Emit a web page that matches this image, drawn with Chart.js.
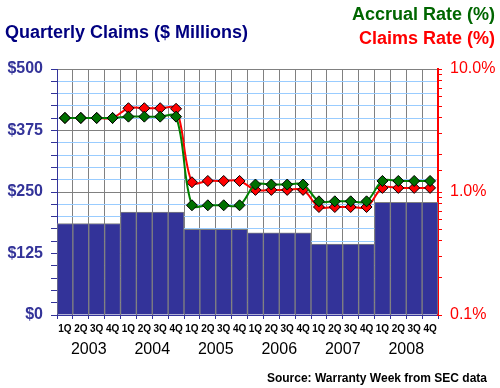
<!DOCTYPE html>
<html>
<head>
<meta charset="utf-8">
<script src="https://cdn.jsdelivr.net/npm/chart.js@4"></script>
<style>
  body { margin: 0; background: #fff; }
  #wrap { position: relative; width: 500px; height: 388px; font-family: Arial, "Liberation Sans", sans-serif; }
  .lbl { position: absolute; font-weight: bold; white-space: nowrap; line-height: 20px; }
</style>
</head>
<body>
<div id="wrap">
  <canvas id="chart" width="500" height="388"></canvas>
  <div class="lbl" style="left:5px; top:22px; font-size:18px; color:#000080;">Quarterly Claims ($ Millions)</div>
  <div class="lbl" style="right:5px; top:4px; font-size:18px; color:#006600;">Accrual Rate (%)</div>
  <div class="lbl" style="right:5px; top:28px; font-size:18px; color:#ff0000;">Claims Rate (%)</div>
  <div class="lbl" style="right:13px; top:368px; font-size:12px; color:#000;">Source: Warranty Week from SEC data</div>
</div>
<script>
const quarters = ['1Q','2Q','3Q','4Q','1Q','2Q','3Q','4Q','1Q','2Q','3Q','4Q',
                  '1Q','2Q','3Q','4Q','1Q','2Q','3Q','4Q','1Q','2Q','3Q','4Q'];
const years = ['2003', '2004', '2005', '2006', '2007', '2008'];

// quarterly claims, $ millions
const claimsPaid = [186, 186, 186, 186, 209, 209, 209, 209, 174, 174, 174, 174,
                    167, 167, 167, 167, 144, 144, 144, 144, 229, 229, 229, 229];
// accrual rate, %
const accrualRate = [4.0, 4.0, 4.0, 4.0, 4.1, 4.1, 4.1, 4.1, 0.78, 0.78, 0.78, 0.78,
                     1.15, 1.15, 1.15, 1.15, 0.84, 0.84, 0.84, 0.84, 1.23, 1.23, 1.23, 1.23];
// claims rate, %
const claimsRate = [4.0, 4.0, 4.0, 4.0, 4.8, 4.8, 4.8, 4.75, 1.2, 1.23, 1.23, 1.23,
                    1.04, 1.04, 1.04, 1.04, 0.755, 0.755, 0.755, 0.755, 1.08, 1.08, 1.08, 1.08];

const FONT = 'Arial, "Liberation Sans", sans-serif';
const isDecade = v => Math.abs(Math.log10(v) - Math.round(Math.log10(v))) < 1e-6;

new Chart(document.getElementById('chart'), {
  data: {
    labels: quarters,
    datasets: [
      {
        type: 'line',
        label: 'Accrual Rate (%)',
        data: accrualRate,
        yAxisID: 'y2',
        borderColor: '#008000',
        borderWidth: 2,
        tension: 0.35,
        pointStyle: 'rectRot',
        pointRadius: 5.5,
        pointBackgroundColor: '#007000',
        pointBorderColor: '#000',
        pointBorderWidth: 1,
        order: 1
      },
      {
        type: 'line',
        label: 'Claims Rate (%)',
        data: claimsRate,
        yAxisID: 'y2',
        borderColor: '#ff0000',
        borderWidth: 2,
        tension: 0.35,
        pointStyle: 'rectRot',
        pointRadius: 5.5,
        pointBackgroundColor: '#ff0000',
        pointBorderColor: '#000',
        pointBorderWidth: 1,
        order: 2
      },
      {
        type: 'bar',
        label: 'Quarterly Claims',
        data: claimsPaid,
        yAxisID: 'y',
        backgroundColor: '#333399',
        borderColor: '#808080',
        borderWidth: 1,
        barPercentage: 1,
        categoryPercentage: 1,
        order: 3
      }
    ]
  },
  options: {
    responsive: false,
    devicePixelRatio: 1,
    animation: false,
    layout: { padding: { top: 69, bottom: 23, left: 0, right: 0 } },
    plugins: { legend: { display: false }, tooltip: { enabled: false } },
    scales: {
      x: {
        type: 'category',
        position: 'bottom',
        weight: 0,
        afterFit: s => { s.height = 20; },
        grid: { color: '#808080', tickColor: '#333399', tickLength: 4, offset: true },
        border: { color: '#333399', width: 1 },
        ticks: { color: '#000', font: { family: FONT, size: 10, weight: 'bold' }, padding: 4, maxRotation: 0, autoSkip: false }
      },
      x2: {
        type: 'linear',
        position: 'bottom',
        weight: 1,
        min: 0,
        max: 24,
        afterFit: s => { s.height = 30; },
        afterBuildTicks: s => { s.ticks = years.map((_, i) => ({ value: i * 4 + 2 })); },
        grid: { display: false, drawTicks: false },
        border: { display: false },
        ticks: {
          color: '#000',
          font: { family: FONT, size: 16 },
          padding: 5,
          maxRotation: 0,
          autoSkip: false,
          callback: v => years[(v - 2) / 4]
        }
      },
      y: {
        position: 'left',
        min: 0,
        max: 500,
        afterFit: s => { s.width = 57; },
        grid: {
          color: ctx => ctx.tick.value % 125 === 0 ? '#808080' : '#99ccff',
          tickColor: '#333399',
          tickLength: 6
        },
        border: { color: '#333399', width: 1 },
        ticks: {
          stepSize: 25,
          autoSkip: false,
          color: '#333399',
          padding: 8,
          font: { family: FONT, size: 16, weight: 'bold' },
          callback: v => v % 125 === 0 ? '$' + v : ''
        }
      },
      y2: {
        type: 'logarithmic',
        position: 'right',
        min: 0.1,
        max: 10,
        afterFit: s => { s.width = 62; },
        grid: { drawOnChartArea: false, color: '#ff0000', tickColor: '#ff0000', tickLength: 4 },
        border: { color: '#ff0000', width: 2 },
        ticks: {
          color: '#ff0000',
          padding: 8,
          autoSkip: false,
          font: { family: FONT, size: 16 },
          callback: v => isDecade(v) ? Number(v).toFixed(1) + '%' : ''
        }
      }
    }
  }
});
</script>
</body>
</html>
